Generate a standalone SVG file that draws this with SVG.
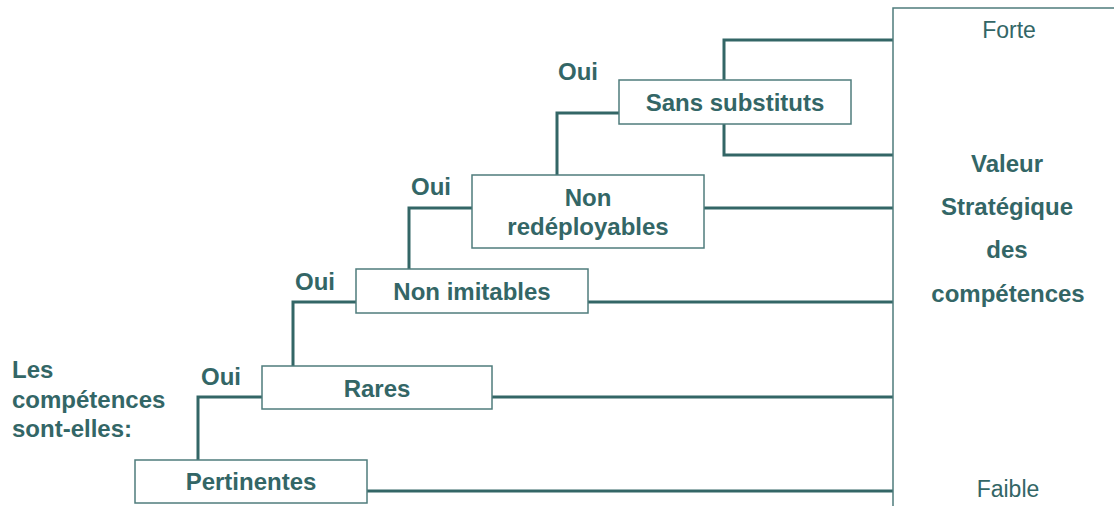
<svg xmlns="http://www.w3.org/2000/svg" width="1114" height="506" viewBox="0 0 1114 506">
<style>
.box{fill:#fff;stroke:#4f7c7c;stroke-width:1.5}
.c{fill:none;stroke:#336666;stroke-width:3}
.ax{fill:none;stroke:#4f7c7c;stroke-width:1.5}
.t{font-family:"Liberation Sans",Arial,sans-serif;font-weight:bold;font-size:24px;fill:#336666}
.m{text-anchor:middle}
.n{font-family:"Liberation Sans",Arial,sans-serif;font-size:23px;fill:#336666;text-anchor:middle}
</style>
<rect width="1114" height="506" fill="#fff"/>
<g id="connectors">
<path class="c" d="M198,461V397H262"/>
<path class="c" d="M293,366V302H356"/>
<path class="c" d="M409,269V208H472"/>
<path class="c" d="M557,175V113H619"/>
<path class="c" d="M724,80V40H893"/>
<path class="c" d="M724,124V155H893"/>
<path class="c" d="M704,208H893"/>
<path class="c" d="M588,302H893"/>
<path class="c" d="M492,397H893"/>
<path class="c" d="M367,491H893"/>
</g>
<g id="axis">
<path class="ax" d="M893,506V8H1114"/>
<text class="n" x="1009" y="38">Forte</text>
<text class="n" x="1008" y="497">Faible</text>
<text class="t m" x="1007" y="172">Valeur</text>
<text class="t m" x="1007" y="215">Stratégique</text>
<text class="t m" x="1007" y="258">des</text>
<text class="t m" x="1008" y="302">compétences</text>
</g>
<g id="question">
<text class="t" x="12" y="378">Les</text>
<text class="t" x="12" y="408">compétences</text>
<text class="t" x="12" y="437">sont-elles:</text>
</g>
<g id="pertinentes">
<rect class="box" x="135" y="460" width="232" height="43"/>
<text class="t m" x="251" y="490">Pertinentes</text>
</g>
<g id="rares">
<rect class="box" x="262" y="366" width="230" height="43"/>
<text class="t m" x="377" y="397">Rares</text>
<text class="t" x="201" y="385">Oui</text>
</g>
<g id="non-imitables">
<rect class="box" x="356" y="269" width="232" height="44"/>
<text class="t m" x="472" y="300">Non imitables</text>
<text class="t" x="295" y="290">Oui</text>
</g>
<g id="non-redeployables">
<rect class="box" x="472" y="175" width="232" height="73"/>
<text class="t m" x="588" y="206">Non</text>
<text class="t m" x="588" y="235">redéployables</text>
<text class="t" x="411" y="195">Oui</text>
</g>
<g id="sans-substituts">
<rect class="box" x="619" y="80" width="232" height="44"/>
<text class="t m" x="735" y="111">Sans substituts</text>
<text class="t" x="558" y="80">Oui</text>
</g>
</svg>
